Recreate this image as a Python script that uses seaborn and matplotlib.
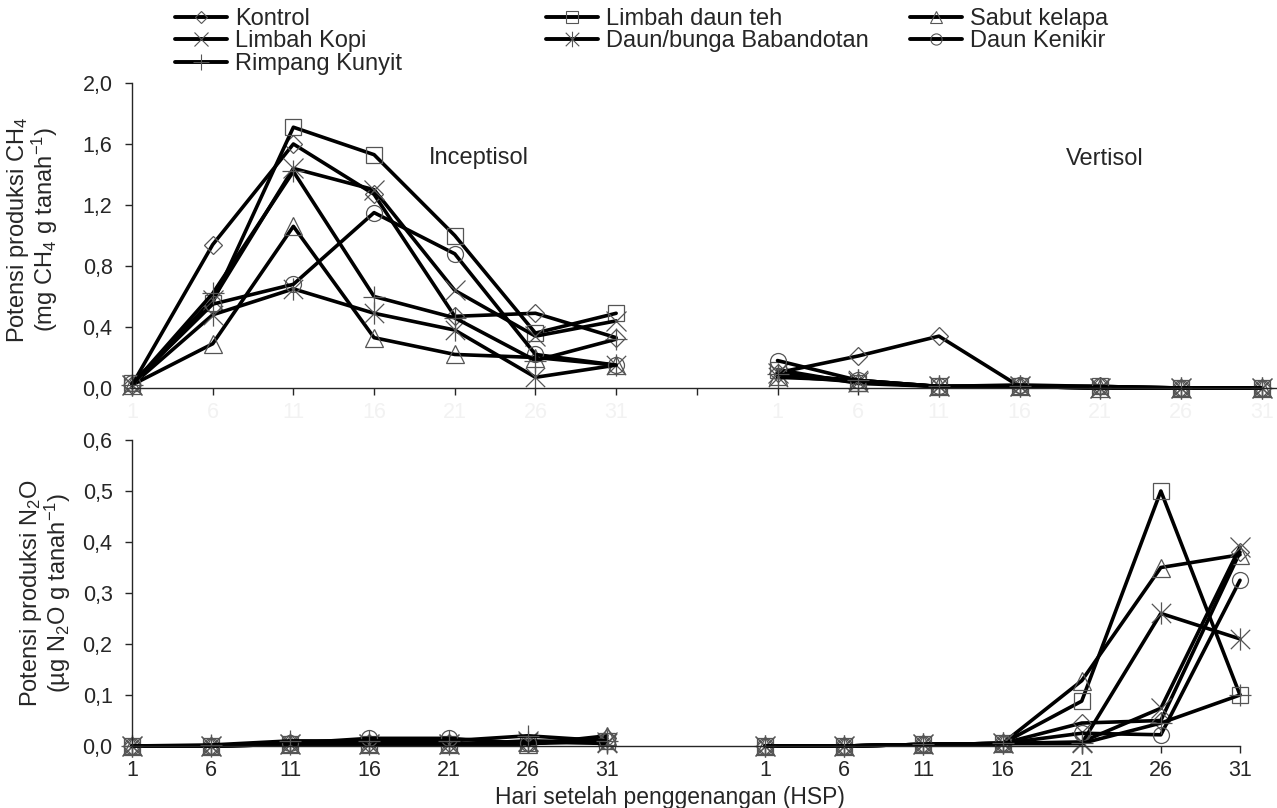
import numpy as np
import pandas as pd
import matplotlib
matplotlib.use("Agg")
import matplotlib.pyplot as plt
from matplotlib.lines import Line2D
from matplotlib.path import Path
from matplotlib.ticker import FuncFormatter
import seaborn as sns

# data
days = [1, 6, 11, 16, 21, 26, 31]
treatments = ["Kontrol", "Limbah daun teh", "Sabut kelapa", "Limbah Kopi",
              "Daun/bunga Babandotan", "Daun Kenikir", "Rimpang Kunyit"]

ch4_inceptisol = {
    "Kontrol":               [0.02, 0.94, 1.60, 1.27, 0.47, 0.49, 0.33],
    "Limbah daun teh":       [0.03, 0.56, 1.71, 1.53, 1.00, 0.36, 0.49],
    "Sabut kelapa":          [0.02, 0.29, 1.06, 0.33, 0.22, 0.20, 0.15],
    "Limbah Kopi":           [0.02, 0.58, 1.44, 1.30, 0.64, 0.34, 0.44],
    "Daun/bunga Babandotan": [0.02, 0.48, 0.65, 0.49, 0.38, 0.07, 0.15],
    "Daun Kenikir":          [0.03, 0.55, 0.68, 1.15, 0.88, 0.22, 0.15],
    "Rimpang Kunyit":        [0.02, 0.62, 1.42, 0.60, 0.46, 0.18, 0.32],
}
ch4_vertisol = {
    "Kontrol":               [0.10, 0.21, 0.34, 0.01, 0.01, 0.00, 0.00],
    "Limbah daun teh":       [0.12, 0.03, 0.01, 0.01, 0.01, 0.00, 0.00],
    "Sabut kelapa":          [0.08, 0.04, 0.01, 0.01, 0.00, 0.00, 0.00],
    "Limbah Kopi":           [0.10, 0.04, 0.01, 0.01, 0.00, 0.00, 0.00],
    "Daun/bunga Babandotan": [0.07, 0.05, 0.01, 0.01, 0.00, 0.00, 0.00],
    "Daun Kenikir":          [0.18, 0.05, 0.01, 0.02, 0.01, 0.00, 0.00],
    "Rimpang Kunyit":        [0.09, 0.05, 0.01, 0.01, 0.00, 0.00, 0.00],
}
n2o_inceptisol = {
    "Kontrol":               [0.0, 0.0, 0.005, 0.005, 0.005, 0.005, 0.015],
    "Limbah daun teh":       [0.0, 0.0, 0.003, 0.003, 0.003, 0.005, 0.010],
    "Sabut kelapa":          [0.0, 0.0, 0.003, 0.003, 0.003, 0.003, 0.020],
    "Limbah Kopi":           [0.0, 0.0, 0.003, 0.003, 0.003, 0.010, 0.008],
    "Daun/bunga Babandotan": [0.0, 0.0, 0.003, 0.003, 0.003, 0.008, 0.005],
    "Daun Kenikir":          [0.0, 0.0, 0.005, 0.015, 0.015, 0.005, 0.010],
    "Rimpang Kunyit":        [0.0, 0.002, 0.010, 0.010, 0.010, 0.020, 0.010],
}
n2o_vertisol = {
    "Kontrol":               [0.0, 0.0, 0.003, 0.005, 0.045, 0.050, 0.380],
    "Limbah daun teh":       [0.0, 0.0, 0.003, 0.005, 0.088, 0.500, 0.100],
    "Sabut kelapa":          [0.0, 0.0, 0.003, 0.005, 0.128, 0.350, 0.375],
    "Limbah Kopi":           [0.0, 0.0, 0.003, 0.005, 0.008, 0.074, 0.390],
    "Daun/bunga Babandotan": [0.0, 0.0, 0.003, 0.005, 0.005, 0.260, 0.210],
    "Daun Kenikir":          [0.0, 0.0, 0.003, 0.005, 0.025, 0.022, 0.325],
    "Rimpang Kunyit":        [0.0, 0.0, 0.003, 0.005, 0.005, 0.045, 0.100],
}

# excel style star: an X with a vertical bar
star = Path([(-1, -1), (1, 1), (-1, 1), (1, -1), (0, -1.15), (0, 1.15)],
            [Path.MOVETO, Path.LINETO] * 3)

markers = {"Kontrol": "D", "Limbah daun teh": "s", "Sabut kelapa": "^",
           "Limbah Kopi": "x", "Daun/bunga Babandotan": star,
           "Daun Kenikir": "o", "Rimpang Kunyit": "+"}
msizes = {"Kontrol": 9, "Limbah daun teh": 12, "Sabut kelapa": 13,
          "Limbah Kopi": 15, "Daun/bunga Babandotan": 16,
          "Daun Kenikir": 11.5, "Rimpang Kunyit": 16}

FS = 17

sns.set_style("ticks")
plt.rcParams["font.family"] = ["Liberation Sans", "DejaVu Sans"]
plt.rcParams["mathtext.fontset"] = "custom"
plt.rcParams["mathtext.rm"] = "Liberation Sans"
plt.rcParams["mathtext.it"] = "Liberation Sans"
plt.rcParams["font.size"] = FS

fig = plt.figure(figsize=(12.77, 8.08), dpi=100)
ax1 = fig.add_axes([132/1277, 1 - 388/808, 1145/1277, 305/808])
ax2 = fig.add_axes([132/1277, 1 - 746/808, 1108/1277, 306/808])

x_inc = np.arange(7)
x_ver = np.arange(8, 15)

def draw(ax, inc, ver):
    for t in treatments:
        for xs, vals in ((x_inc, inc[t]), (x_ver, ver[t])):
            df = pd.DataFrame({"x": xs, "y": vals})
            sns.lineplot(data=df, x="x", y="y", ax=ax, color="black",
                         linewidth=2.6, marker=markers[t], markersize=msizes[t],
                         fillstyle="none", markeredgecolor="#555555",
                         markeredgewidth=0.9, clip_on=False, legend=False)

draw(ax1, ch4_inceptisol, ch4_vertisol)
draw(ax2, n2o_inceptisol, n2o_vertisol)

comma = FuncFormatter(lambda v, p: f"{v:.1f}".replace(".", ","))
for ax in (ax1, ax2):
    sns.despine(ax=ax)
    ax.spines["left"].set_linewidth(1.0)
    ax.spines["bottom"].set_linewidth(1.0)
    ax.yaxis.set_major_formatter(comma)
    ax.tick_params(direction="out", length=5, width=1, labelsize=15.5)
    ax.tick_params(axis="y", pad=9)
    ax.tick_params(axis="x", pad=5)
    ax.set_xlabel("")

ax1.set_xlim(0, 14.19)
ax1.set_ylim(0, 2.0)
ax1.set_yticks(np.arange(0, 2.01, 0.4))
ax1.set_xticks(np.arange(15))
ax1.set_xticklabels([str(d) for d in days] + [""] + [str(d) for d in days],
                    color="#f2f2f2")
ax1.set_ylabel("Potensi produksi CH$_4$\n(mg CH$_4$ g tanah$^{-1}$)",
               fontsize=FS, linespacing=0.95)
ax1.yaxis.set_label_coords(-0.063, 0.52)
ax1.text(4.3, 1.51, "Inceptisol", ha="center", va="center", fontsize=FS)
ax1.text(12.05, 1.50, "Vertisol", ha="center", va="center", fontsize=FS)

ax2.set_xlim(0, 14)
ax2.set_ylim(0, 0.6)
ax2.set_yticks(np.arange(0, 0.61, 0.1))
ax2.set_xticks(list(x_inc) + list(x_ver))
ax2.set_xticklabels([str(d) for d in days] * 2)
ax2.set_ylabel("Potensi produksi N$_2$O\n(µg N$_2$O g tanah$^{-1}$)",
               fontsize=FS, linespacing=0.95)
ax2.yaxis.set_label_coords(-0.053, 0.5)

fig.text(670/1277, 1 - 804/808, "Hari setelah penggenangan (HSP)",
         ha="center", va="baseline", fontsize=16.5)

# legend, three columns placed by hand
def handle(t):
    return Line2D([], [], color="black", linewidth=2.8, marker=markers[t],
                  markersize=msizes[t] * 0.7, fillstyle="none",
                  markeredgecolor="#555555", markeredgewidth=0.8)

cols = [(["Kontrol", "Limbah Kopi", "Rimpang Kunyit"], 175),
        (["Limbah daun teh", "Daun/bunga Babandotan"], 546),
        (["Sabut kelapa", "Daun Kenikir"], 910)]
for names, px in cols:
    fig.legend([handle(t) for t in names], names, loc="upper left",
               bbox_to_anchor=(px/1277, 1 - 8/808), frameon=False,
               fontsize=FS, handlelength=2.2, handletextpad=0.34,
               labelspacing=0.02, borderpad=0, borderaxespad=0)

fig.savefig("out.png", dpi=100)
